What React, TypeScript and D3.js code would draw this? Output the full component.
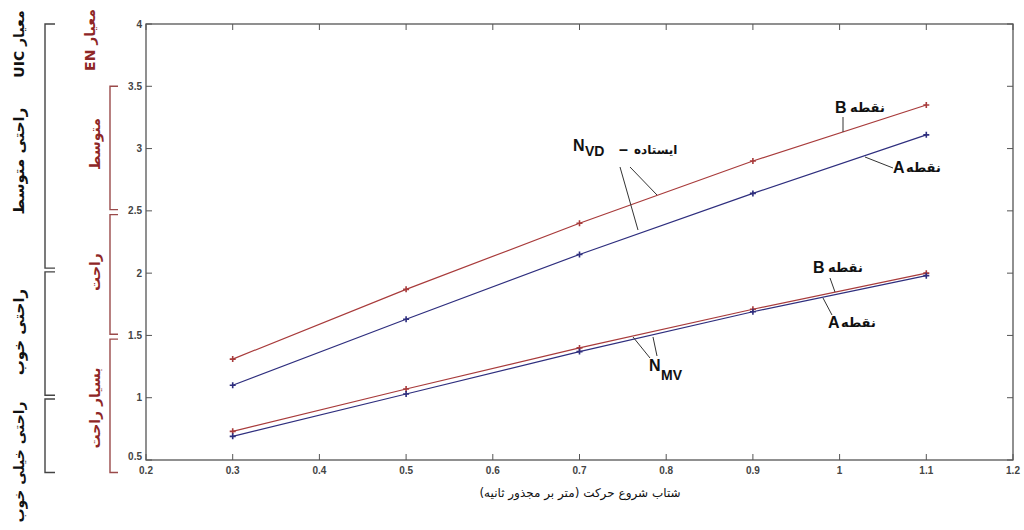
import React from 'react';
import * as d3 from 'd3';

// starting acceleration (m/s^2)
const accel = [0.3, 0.5, 0.7, 0.9, 1.1];
// N_VD (standing) comfort index, point B (red) and point A (blue)
const vdB = [1.31, 1.87, 2.40, 2.90, 3.35];
const vdA = [1.10, 1.63, 2.15, 2.64, 3.11];
// N_MV comfort index, point B (red) and point A (blue)
const mvB = [0.73, 1.07, 1.40, 1.71, 2.00];
const mvA = [0.69, 1.03, 1.37, 1.69, 1.98];

const xTicks = [0.2, 0.3, 0.4, 0.5, 0.6, 0.7, 0.8, 0.9, 1, 1.1, 1.2];
const yTicks = [0.5, 1, 1.5, 2, 2.5, 3, 3.5, 4];

// comfort bands: [top, bottom] in index units
const uicBands = [[4, 2.04], [2.01, 1.02], [0.99, 0.4]];
const enBands = [[3.5, 2.51], [2.47, 1.51], [1.47, 0.4]];

const RED = '#a83b3b';
const BLUE = '#2e2e7e';
const AXIS = '#555';
const EN_COL = '#8e2626';
const FA = '"DejaVu Sans", sans-serif';
const LAT = 'Arial, "Liberation Sans", sans-serif';

const margin = { left: 146, right: 1013, top: 24, bottom: 460 };

export default function App() {
  const x = d3.scaleLinear().domain([0.2, 1.2]).range([margin.left, margin.right]);
  const y = d3.scaleLinear().domain([0.5, 4]).range([margin.bottom, margin.top]);
  const line = d3.line<number>().x((_, i) => x(accel[i])).y(d => y(d));

  const series = [
    { v: vdB, c: RED },
    { v: vdA, c: BLUE },
    { v: mvB, c: RED },
    { v: mvA, c: BLUE },
  ];

  const bracket = (bands: number[][], bx: number, len: number, col: string) =>
    bands.map((b, i) => (
      <path key={i} d={`M${bx + len},${y(b[0])}H${bx}V${y(b[1])}H${bx + len}`}
        fill="none" stroke={col} strokeWidth={1.4} />
    ));

  return (
    <svg width={1024} height={530} style={{ position: 'absolute', left: 0, top: 0, background: '#fff' }}>
      {/* axis box */}
      <rect x={margin.left} y={margin.top} width={margin.right - margin.left}
        height={margin.bottom - margin.top} fill="none" stroke={AXIS} strokeWidth={1.3} />
      {xTicks.map(t => (
        <g key={'x' + t}>
          <line x1={x(t)} x2={x(t)} y1={margin.bottom} y2={margin.bottom - 6} stroke={AXIS} />
          <line x1={x(t)} x2={x(t)} y1={margin.top} y2={margin.top + 6} stroke={AXIS} />
          <text x={x(t)} y={474} textAnchor="middle" fontFamily={LAT} fontSize={10}
            fontWeight="bold" fill="#444">{t}</text>
        </g>
      ))}
      {yTicks.map(t => (
        <g key={'y' + t}>
          <line x1={margin.left} x2={margin.left + 6} y1={y(t)} y2={y(t)} stroke={AXIS} />
          <line x1={margin.right} x2={margin.right - 6} y1={y(t)} y2={y(t)} stroke={AXIS} />
          <text x={margin.left - 4} y={y(t) + (t === 0.5 ? 0 : 3.5)} textAnchor="end" fontFamily={LAT}
            fontSize={10} fontWeight="bold" fill="#444">{t}</text>
        </g>
      ))}

      {/* series */}
      {series.map((s, i) => (
        <g key={'s' + i}>
          <path d={line(s.v) || ''} fill="none" stroke={s.c} strokeWidth={1.2} />
          {s.v.map((v, j) => (
            <path key={j} d={`M${x(accel[j]) - 3},${y(v)}h6M${x(accel[j])},${y(v) - 3}v6`}
              stroke={s.c} strokeWidth={1.6} />
          ))}
        </g>
      ))}

      {/* annotations */}
      <g fontFamily={LAT} fontWeight="bold" fill="#111" fontSize={16}>
        <text x={573} y={151}>N</text>
        <text x={585} y={156} fontSize={14}>VD</text>
        <text x={619} y={155}>–</text>
        <text x={634} y={154} fontFamily={FA} fontSize={12}>ایستاده</text>

        <text x={835} y={113}>B</text>
        <text x={850} y={112} fontFamily={FA} fontSize={13}>نقطه</text>
        <text x={893} y={173}>A</text>
        <text x={906} y={172} fontFamily={FA} fontSize={13}>نقطه</text>

        <text x={649} y={371}>N</text>
        <text x={661} y={380} fontSize={14}>MV</text>

        <text x={813} y={273}>B</text>
        <text x={828} y={272} fontFamily={FA} fontSize={13}>نقطه</text>
        <text x={828} y={328}>A</text>
        <text x={841} y={327} fontFamily={FA} fontSize={13}>نقطه</text>
      </g>
      <g stroke="#333" strokeWidth={1}>
        <line x1={620} y1={167} x2={638} y2={230} />
        <line x1={630} y1={167} x2={657} y2={195} />
        <line x1={843} y1={117} x2={843} y2={132} />
        <line x1={865} y1={157} x2={893} y2={168} />
        <line x1={650} y1={358} x2={633} y2={337} />
        <line x1={657} y1={356} x2={653} y2={337} />
        <line x1={830} y1={278} x2={835} y2={292} />
        <line x1={823} y1={298} x2={832} y2={315} />
      </g>

      {/* comfort brackets */}
      {bracket(uicBands, 45, 10, '#444')}
      {bracket(enBands, 110, 8, '#9a4a4a')}

      <g fontFamily={FA} textAnchor="middle" fontWeight="bold" style={{ direction: 'rtl' }}>
        <text transform="translate(24,44) rotate(-90)" fontSize={14} fill="#111">معیار UIC</text>
        <text transform="translate(24,161) rotate(-90)" fontSize={15} fill="#111">راحتی متوسط</text>
        <text transform="translate(24,332) rotate(-90)" fontSize={15} fill="#111">راحتی خوب</text>
        <text transform="translate(24,462) rotate(-90)" fontSize={14} fill="#111">راحتی خیلی خوب</text>
        <text transform="translate(95,40) rotate(-90)" fontSize={14} fill={EN_COL}>معیار EN</text>
        <text transform="translate(100,144) rotate(-90)" fontSize={14} fill={EN_COL}>متوسط</text>
        <text transform="translate(100,272) rotate(-90)" fontSize={14} fill={EN_COL}>راحت</text>
        <text transform="translate(100,408) rotate(-90)" fontSize={14} fill={EN_COL}>بسیار راحت</text>
        <text x={580} y={497} fontSize={12} fontWeight="normal" fill="#111">شتاب شروع حرکت (متر بر مجذور ثانیه)</text>
      </g>
    </svg>
  );
}
